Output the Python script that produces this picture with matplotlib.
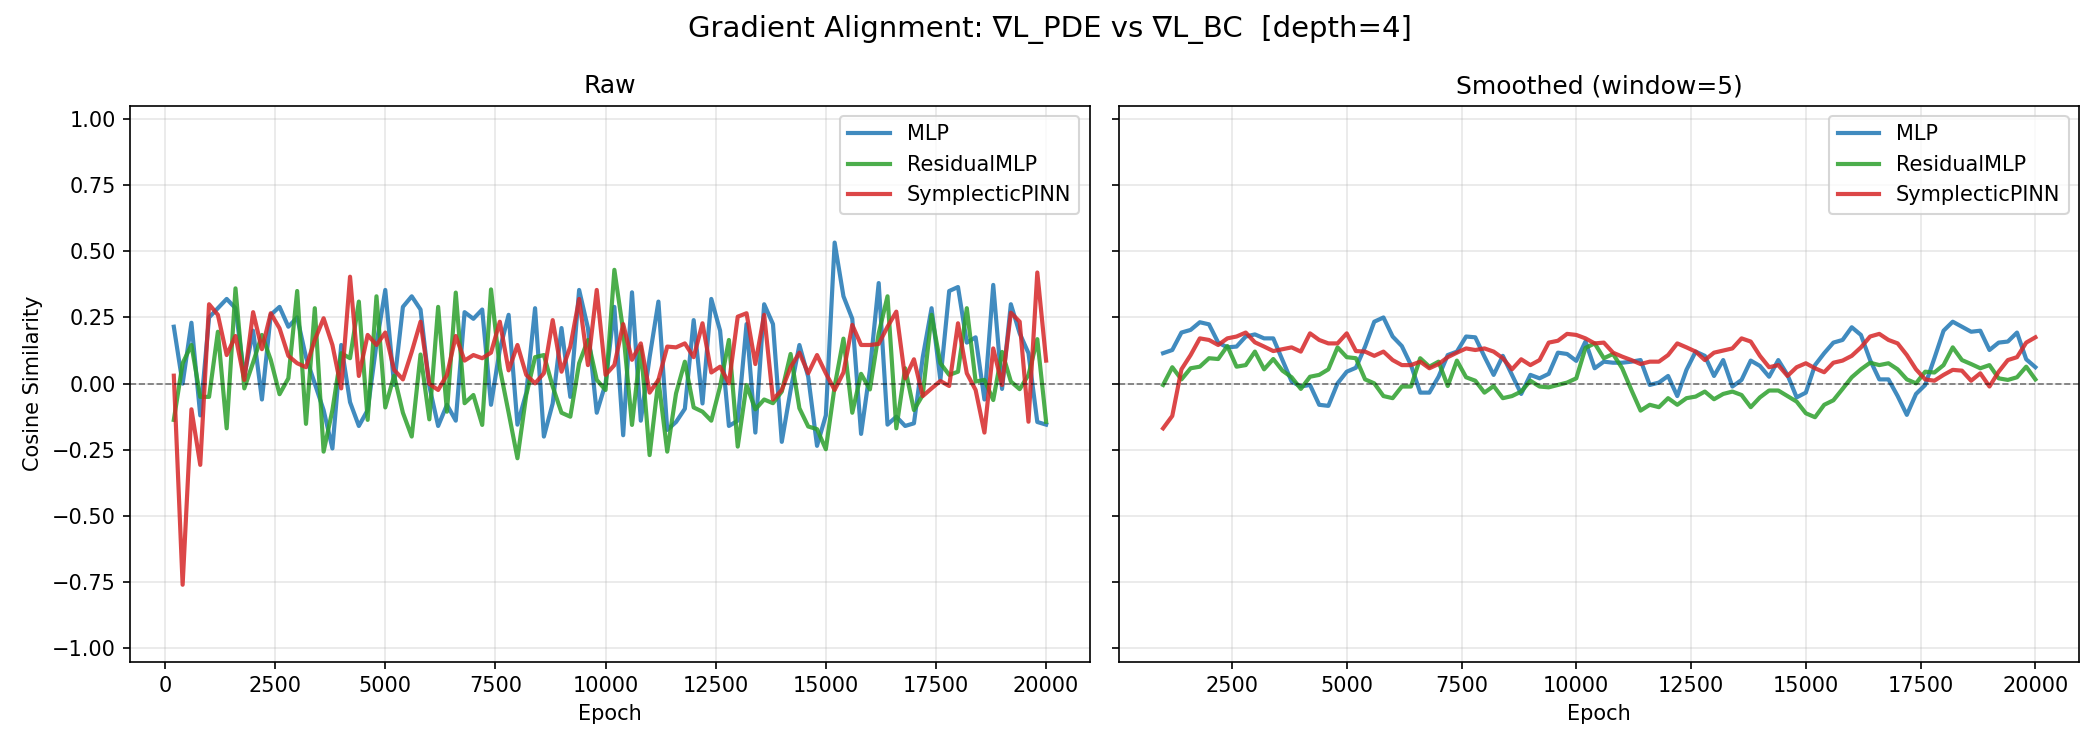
import numpy as np
import matplotlib
matplotlib.use("Agg")
import matplotlib.pyplot as plt

# raw cosine similarity, every 200 epochs (200 .. 20000)
epochs = list(range(200, 20001, 200))

mlp_raw = [
    0.215, 0.0, 0.23, -0.12, 0.25, 0.285, 0.32, 0.285, 0.03, 0.2,
    -0.06, 0.26, 0.29, 0.215, 0.25, 0.1, 0.0, -0.1, -0.245, 0.146,
    -0.07, -0.16, -0.1, 0.15, 0.354, -0.005, 0.29, 0.33, 0.28, -0.01,
    -0.16, -0.08, -0.14, 0.27, 0.245, 0.28, -0.08, 0.13, 0.26, -0.155,
    -0.035, 0.285, -0.2, -0.075, 0.21, -0.05, 0.354, 0.21, -0.11, 0.0,
    0.29, -0.195, 0.345, -0.14, 0.1, 0.31, -0.175, -0.145, -0.095, 0.24,
    -0.075, 0.32, 0.2, -0.16, -0.14, 0.225, -0.185, 0.3, 0.225, -0.22,
    -0.025, 0.146, 0.026, -0.235, -0.12, 0.533, 0.33, 0.245, -0.19, 0.05,
    0.38, -0.155, -0.125, -0.16, -0.15, 0.1, 0.285, 0.014, 0.35, 0.365,
    0.155, 0.175, -0.06, 0.373, -0.02, 0.3, 0.19, 0.115, -0.145, -0.155,
]
res_raw = [
    -0.137, 0.077, 0.146, -0.05, -0.05, 0.196, -0.169, 0.36, -0.018, 0.08,
    0.184, 0.09, -0.04, 0.02, 0.35, -0.152, 0.285, -0.257, -0.1, 0.115,
    0.096, 0.31, -0.137, 0.33, -0.09, 0.03, -0.11, -0.2, 0.11, -0.135,
    0.29, -0.106, 0.344, -0.074, -0.043, -0.156, 0.356, 0.058, -0.11, -0.282,
    -0.043, 0.1, 0.108, -0.011, -0.11, -0.125, 0.077, 0.165, 0.014, -0.024,
    0.43, 0.2, -0.156, 0.14, -0.27, 0.014, -0.257, -0.037, 0.083, -0.09,
    -0.106, -0.14, -0.011, 0.165, -0.238, -0.005, -0.097, -0.06, -0.074, -0.03,
    0.112, -0.093, -0.162, -0.172, -0.248, -0.011, 0.17, -0.11, 0.037, -0.022,
    0.19, 0.33, -0.169, 0.058, -0.1, -0.043, 0.26, 0.077, 0.033, 0.045,
    0.285, 0.008, 0.014, -0.062, 0.12, 0.008, -0.021, 0.033, 0.168, -0.144,
]
symp_raw = [
    0.03, -0.76, -0.097, -0.307, 0.3, 0.26, 0.108, 0.18, 0.014, 0.27,
    0.13, 0.266, 0.209, 0.105, 0.077, 0.062, 0.165, 0.247, 0.146, -0.018,
    0.404, 0.029, 0.184, 0.146, 0.193, 0.052, 0.016, 0.12, 0.234, -0.001,
    -0.024, 0.033, 0.18, 0.087, 0.108, 0.096, 0.117, 0.234, 0.05, 0.146,
    0.033, 0.001, 0.039, 0.24, 0.045, 0.14, 0.32, 0.07, 0.354, 0.033,
    0.07, 0.225, 0.09, 0.152, -0.034, 0.014, 0.14, 0.137, 0.152, 0.1,
    0.228, 0.042, 0.064, 0.001, 0.253, 0.266, 0.074, 0.26, -0.06, -0.024,
    0.062, 0.117, 0.039, 0.108, 0.039, -0.024, 0.042, 0.222, 0.146, 0.146,
    0.15, 0.215, 0.272, 0.02, 0.092, -0.047, -0.018, 0.01, -0.009, 0.228,
    0.039, -0.024, -0.185, 0.133, -0.005, 0.268, 0.234, -0.144, 0.42, 0.087,
]

# smoothed (window=5), epochs 1000 .. 20000
epochs_s = epochs[4:]

mlp_s = [
    0.115, 0.127, 0.193, 0.203, 0.232, 0.224, 0.155, 0.137, 0.14, 0.178,
    0.186, 0.171, 0.171, 0.089, 0.008, -0.011, -0.005, -0.08, -0.084, 0.001,
    0.045, 0.06, 0.14, 0.234, 0.25, 0.178, 0.142, 0.07, -0.034, -0.034,
    0.026, 0.108, 0.121, 0.178, 0.175, 0.102, 0.033, 0.105, 0.033, -0.039,
    0.033, 0.02, 0.037, 0.117, 0.112, 0.086, 0.159, 0.058, 0.083, 0.079,
    0.079, 0.083, 0.089, -0.005, 0.004, 0.029, -0.047, 0.052, 0.121, 0.105,
    0.029, 0.089, -0.011, 0.014, 0.087, 0.067, 0.026, 0.089, 0.033, -0.052,
    -0.034, 0.07, 0.115, 0.155, 0.165, 0.213, 0.184, 0.089, 0.016, 0.016,
    -0.047, -0.118, -0.039, -0.005, 0.096, 0.2, 0.234, 0.215, 0.196, 0.2,
    0.127, 0.155, 0.159, 0.193, 0.092, 0.062,
]
res_s = [
    -0.005, 0.062, 0.016, 0.058, 0.064, 0.096, 0.093, 0.142, 0.064, 0.07,
    0.121, 0.054, 0.093, 0.049, 0.024, -0.02, 0.026, 0.033, 0.054, 0.137,
    0.1, 0.096, 0.016, 0.001, -0.047, -0.055, -0.011, -0.011, 0.096, 0.064,
    0.083, -0.009, 0.087, 0.024, 0.011, -0.034, -0.009, -0.055, -0.047, -0.03,
    0.011, -0.011, -0.014, -0.005, 0.004, 0.02, 0.135, 0.152, 0.096, 0.112,
    0.058, -0.024, -0.102, -0.08, -0.089, -0.055, -0.08, -0.055, -0.049, -0.03,
    -0.059, -0.039, -0.03, -0.043, -0.089, -0.052, -0.026, -0.026, -0.047, -0.068,
    -0.112, -0.127, -0.08, -0.063, -0.02, 0.024, 0.054, 0.079, 0.07, 0.077,
    0.054, 0.016, 0.001, 0.045, 0.042, 0.07, 0.137, 0.089, 0.074, 0.058,
    0.07, 0.02, 0.014, 0.024, 0.064, 0.016,
]
symp_s = [
    -0.169, -0.122, 0.054, 0.108, 0.171, 0.165, 0.146, 0.171, 0.178, 0.193,
    0.156, 0.14, 0.123, 0.13, 0.137, 0.121, 0.19, 0.165, 0.152, 0.152,
    0.19, 0.123, 0.121, 0.105, 0.121, 0.089, 0.07, 0.07, 0.083, 0.058,
    0.074, 0.1, 0.117, 0.133, 0.127, 0.133, 0.121, 0.096, 0.054, 0.092,
    0.07, 0.089, 0.155, 0.162, 0.188, 0.184, 0.171, 0.152, 0.155, 0.117,
    0.102, 0.089, 0.074, 0.083, 0.083, 0.108, 0.152, 0.137, 0.121, 0.089,
    0.117, 0.125, 0.133, 0.171, 0.159, 0.105, 0.062, 0.07, 0.029, 0.062,
    0.077, 0.058, 0.043, 0.079, 0.087, 0.105, 0.137, 0.178, 0.188, 0.165,
    0.152, 0.108, 0.054, 0.016, 0.011, 0.033, 0.052, 0.049, 0.011, 0.039,
    -0.011, 0.045, 0.089, 0.1, 0.155, 0.175,
]

names = ["MLP", "ResidualMLP", "SymplecticPINN"]
colors = ["#1f77b4", "#2ca02c", "#d62728"]

fig, (ax1, ax2) = plt.subplots(1, 2, figsize=(14, 5), dpi=150, sharey=True)

for name, y, c in zip(names, [mlp_raw, res_raw, symp_raw], colors):
    ax1.plot(epochs, y, color=c, lw=2, alpha=0.85, label=name)
for name, y, c in zip(names, [mlp_s, res_s, symp_s], colors):
    ax2.plot(epochs_s, y, color=c, lw=2, alpha=0.85, label=name)

ax1.set_title("Raw", fontsize=12)
ax2.set_title("Smoothed (window=5)", fontsize=12)
for ax in (ax1, ax2):
    ax.axhline(0, color="k", ls="--", lw=0.8, alpha=0.5)
    ax.set_xlabel("Epoch")
    ax.grid(True, alpha=0.3)
    ax.legend(loc="upper right", fontsize=10)
ax1.set_ylabel("Cosine Similarity")
ax1.set_ylim(-1.05, 1.05)

fig.suptitle("Gradient Alignment: \u2207L_PDE vs \u2207L_BC  [depth=4]", fontsize=14)
fig.subplots_adjust(left=0.062, right=0.99, bottom=0.118, top=0.859, wspace=0.031)
fig.savefig("out.png", dpi=150)
